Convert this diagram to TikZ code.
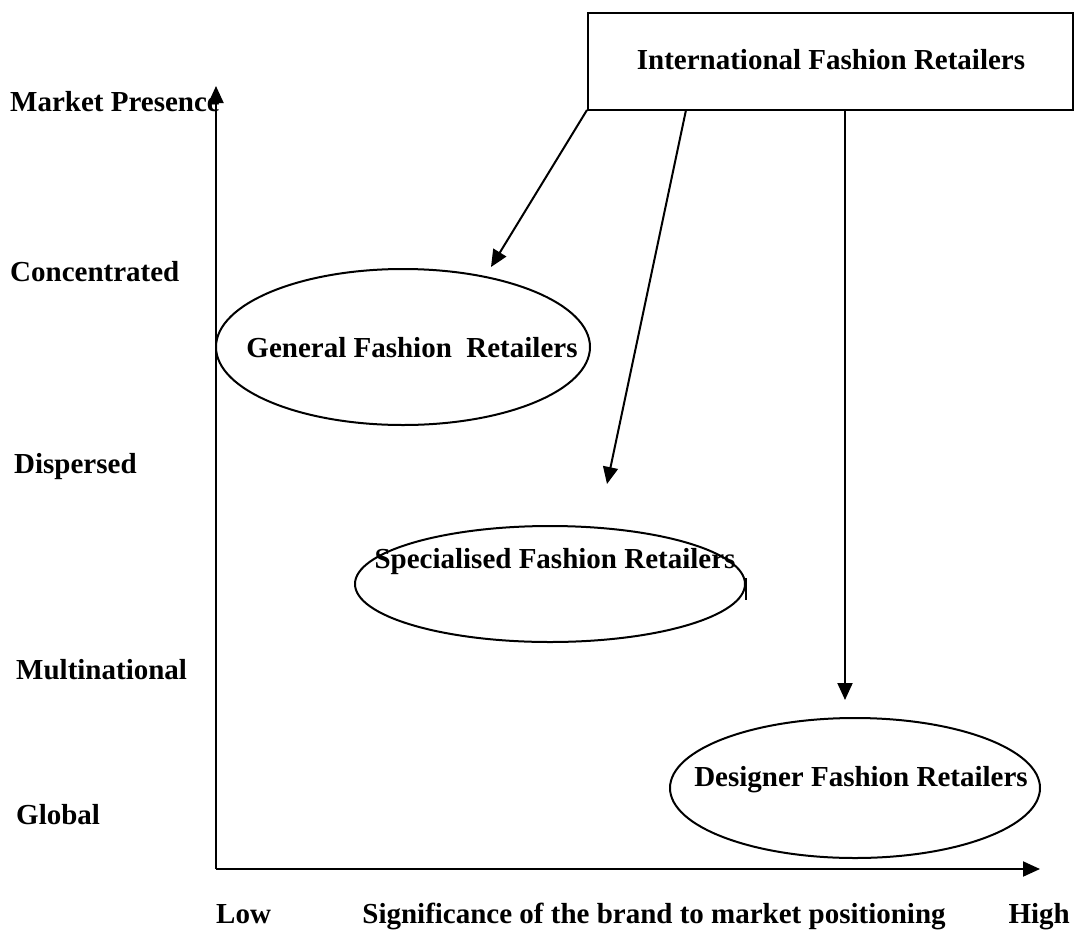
\documentclass[tikz,border=0pt]{standalone}
\usepackage{fontspec}
\setmainfont{Liberation Serif}
\usetikzlibrary{shapes.geometric,arrows.meta}
\begin{document}
\begin{tikzpicture}[x=1pt,y=-1pt,
  every node/.style={font=\fontsize{29}{34}\selectfont\bfseries, inner sep=0pt},
  line/.style={line width=2pt},
  oval/.style={draw, ellipse, line width=2pt, font=\normalsize},
  lbl/.style={anchor=west},
  arr/.style={line width=2pt, -{Triangle[length=17pt,width=15pt]}}]
\useasboundingbox (0,0) rectangle (1074,938);
% top box
\node[draw, line width=2pt, minimum width=485pt, minimum height=97pt] (ifr) at (830,61) {};
\node (ifrt) at (831,60) {International Fashion Retailers};
% axes
\coordinate (origin) at (216,869);
\coordinate (ytop) at (216,86);
\coordinate (xend) at (1040,869);
\draw[arr] (origin) -- (ytop);
\draw[arr] (origin) -- (xend);
% axis labels
\node[lbl] (mp) at (10,102) {Market Presence};
\node[lbl] (conc) at (10,272) {Concentrated};
\node[lbl] (disp) at (14,467) {Dispersed};
\node[lbl] (mult) at (16,670) {Multinational};
\node[lbl] (glob) at (16,815) {Global};
\node[anchor=base west] (low) at (216,923) {Low};
\node[anchor=base] (sig) at (654,923) {Significance of the brand to market positioning};
\node[anchor=base east] (high) at (1070,923) {High};
% ellipses
\node[oval, minimum width=374pt, minimum height=156pt] (gen) at (403,347) {};
\node (gent) at (412,348) {General Fashion\ \ Retailers};
\node[oval, minimum width=390pt, minimum height=116pt] (spec) at (550,584) {};
\node (spect) at (555,562) {Specialised Fashion Retailers};
\node[oval, minimum width=370pt, minimum height=140pt] (des) at (855,788) {};
\node (dest) at (861,780) {Designer Fashion Retailers};
\draw[line] (746,578) -- (746,600);
% arrows
\coordinate (a1s) at (587,110);
\coordinate (a1e) at (491,267);
\coordinate (a2s) at (686,110);
\coordinate (a2e) at (607,484);
\coordinate (a3s) at (845,110);
\coordinate (a3e) at (845,700);
\draw[arr] (a1s) -- (a1e);
\draw[arr] (a2s) -- (a2e);
\draw[arr] (a3s) -- (a3e);
\end{tikzpicture}
\end{document}
